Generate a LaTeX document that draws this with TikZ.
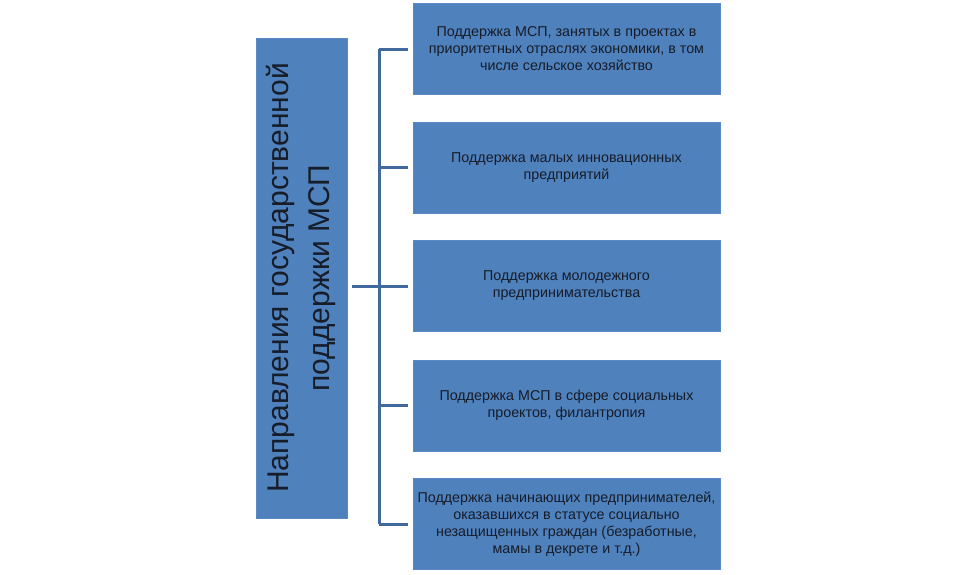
\documentclass[tikz,border=0pt]{standalone}
\usepackage{fontspec}
\setmainfont{Liberation Sans}
\definecolor{boxfill}{HTML}{4F81BD}
\definecolor{boxedge}{HTML}{5A8AC6}
\definecolor{linecol}{HTML}{41699E}
\definecolor{txtcol}{HTML}{161C28}
\tikzset{
  itembox/.style={draw=boxedge, line width=0.8pt, fill=boxfill, minimum width=307pt, minimum height=91pt,
    inner sep=0pt, align=center, text=txtcol, font=\fontsize{14.3}{17}\selectfont},
  mainbox/.style={draw=boxedge, line width=0.8pt, fill=boxfill, minimum width=91pt, minimum height=480pt,
    inner sep=0pt},
  conn/.style={draw=linecol, line width=3pt}
}
\begin{document}
\begin{tikzpicture}[x=1pt,y=-1pt]
\useasboundingbox (0,0) rectangle (975,574);
\node[mainbox] (main) at (301.5,278) {};
\node[rotate=90, align=center, text=txtcol, font=\fontsize{30}{41}\selectfont] (maintext) at (301,278)
  {Направления государственной\\поддержки МСП};
\node[itembox] (b1) at (566.5,49) {Поддержка МСП, занятых в проектах в\\приоритетных отраслях экономики, в том\\числе сельское хозяйство};
\node[itembox] (b2) at (566.5,167.5) {Поддержка малых инновационных\\предприятий};
\node[itembox] (b3) at (566.5,286) {Поддержка молодежного\\предпринимательства};
\node[itembox] (b4) at (566.5,405.5) {Поддержка МСП в сфере социальных\\проектов, филантропия};
\node[itembox] (b5) at (566.5,524) {Поддержка начинающих предпринимателей,\\оказавшихся в статусе социально\\незащищенных граждан (безработные,\\мамы в декрете и т.д.)};
\coordinate (top) at (379,49);
\coordinate (bot) at (379,524);
\coordinate (mid) at (379,286);
\draw[conn] (top) -- (bot);
\draw[conn] (top) -- ([xshift=-5pt]b1.west);
\draw[conn] (379,167.5) -- ([xshift=-5pt]b2.west);
\draw[conn] (mid) -- ([xshift=-5pt]b3.west);
\draw[conn] (379,405.5) -- ([xshift=-5pt]b4.west);
\draw[conn] (bot) -- ([xshift=-5pt]b5.west);
\draw[conn] ([xshift=5pt]main.east |- mid) -- (mid);
\end{tikzpicture}
\end{document}
